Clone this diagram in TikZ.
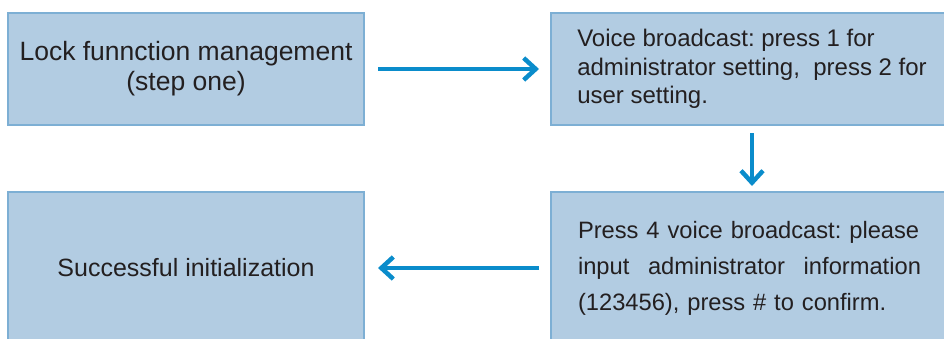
\documentclass[tikz,border=0pt]{standalone}
\usepackage{fontspec}
\setmainfont{Liberation Sans}
\usepackage{tikz}
\usetikzlibrary{arrows.meta}
\definecolor{boxfill}{HTML}{B2CCE2}
\definecolor{boxline}{HTML}{7DAFD4}
\definecolor{flowblue}{HTML}{0A8CCB}
\definecolor{textgray}{HTML}{231F20}
\tikzset{>={Straight Barb[length=12pt,width=22pt]}}
\frenchspacing

\begin{document}
\begin{tikzpicture}[x=1pt, y=-1pt,
  boxnode/.style={draw=boxline, line width=2pt, fill=boxfill, text=textgray,
    minimum width=356pt, minimum height=112pt, inner sep=0pt},
  flowarrow/.style={->, line width=4.5pt, flowblue}]

% Frame
\useasboundingbox (0,0) rectangle (944,338);
\clip (0,0) rectangle (944,338);

% Boxes
\node[boxnode, align=center, font=\fontsize{26.5}{30}\selectfont] (lockmgmt) at (186,69)
  {Lock funnction management\\(step one)};
\node[boxnode, align=left, minimum width=402pt, font=\fontsize{24}{28.5}\selectfont] (voice) at (752,69)
  {Voice broadcast: press 1 for\\administrator setting,\ \ press 2 for\\user setting.};
\node[boxnode, minimum height=152pt, font=\fontsize{25}{30}\selectfont] (success) at (186,268)
  {Successful initialization};
\node[boxnode, align=left, minimum width=402pt, minimum height=152pt, text width=348pt,
  font=\fontsize{23.7}{36}\selectfont] (press4) at (752,268)
  {Press 4 voice broadcast: please\\
   \leavevmode\hbox to 343pt{input\hfill administrator\hfill information}\\
   (123456), press \# to confirm.};

% Arrows
\draw[flowarrow, shorten <=13pt, shorten >=11pt] (lockmgmt.east) -- (voice.west);
\draw[flowarrow, shorten <=7pt, shorten >=5pt] (voice.south) -- (press4.north);
\draw[flowarrow, shorten <=11pt, shorten >=13pt] (press4.west) -- (success.east);

\end{tikzpicture}
\end{document}
